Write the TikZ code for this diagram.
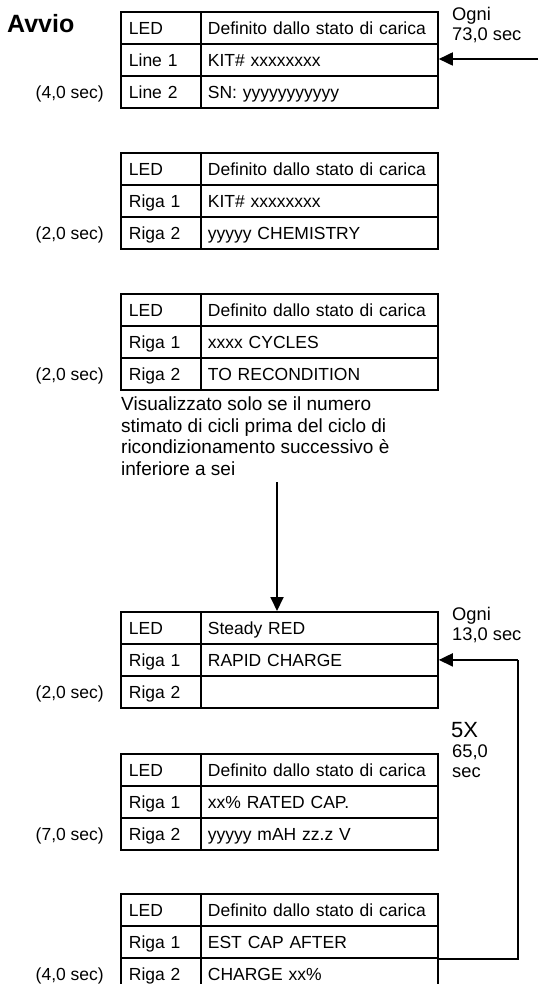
\documentclass[tikz,border=0pt]{standalone}
\usepackage{fontspec}
\setmainfont{Liberation Sans}
\usetikzlibrary{arrows.meta}
\newcommand{\lcdfont}{\fontsize{17.5}{21}\selectfont}
\newcommand{\lblfont}{\fontsize{18.3}{20}\selectfont}
\newcommand{\notefont}{\fontsize{19}{21.7}\selectfont}
\newcommand{\bigfivefont}{\fontsize{22}{24}\selectfont}
\newcommand{\avviofont}{\fontsize{25}{28}\selectfont\bfseries}
% name, top y, LED text, r1 label, r1 text, r2 label, r2 text, time label
\newcommand{\lcdtab}[8]{%
  \node[cellL] (#1a) at (120,#2) {LED};
  \node[cellR] (#1b) at (200,#2) {#3};
  \node[cellL] (#1c) at (120,#2+32) {#4};
  \node[cellR] (#1d) at (200,#2+32) {#5};
  \node[cellL] (#1e) at (120,#2+64) {#6};
  \node[cellR] (#1f) at (200,#2+64) {#7};
  \node[timelbl] (#1t) at ([xshift=-16pt]#1e.west) {#8};
}
\begin{document}
\begin{tikzpicture}[x=1pt,y=-1pt,
  cellbase/.style={draw, line width=1.8pt, anchor=north west, minimum height=32pt,
    inner ysep=0pt, align=left, text height=15pt, text depth=2.5pt, font=\lcdfont},
  cellL/.style={cellbase, text width=64pt, inner xsep=8pt},
  cellR/.style={cellbase, text width=223pt, inner xsep=7pt},
  timelbl/.style={anchor=east, inner sep=0pt, text height=15pt, text depth=2.5pt, font=\lcdfont},
  rlbl/.style={anchor=north west, inner sep=0pt, align=left, font=\lblfont},
  arr/.style={line width=1.8pt, -{Triangle[length=14pt,width=13pt]}},
  loopline/.style={line width=1.8pt}
]
\useasboundingbox (0,0) rectangle (538,984);
\clip (0,0) rectangle (538,984);

\node[anchor=base west, inner sep=0pt, font=\avviofont] (avvio) at (7,33) {Avvio};

\lcdtab{ta}{11}{Definito dallo stato di carica}{Line 1}{KIT\# xxxxxxxx}{Line 2}{SN: yyyyyyyyyyy}{(4,0 sec)}
\lcdtab{tb}{152}{Definito dallo stato di carica}{Riga 1}{KIT\# xxxxxxxx}{Riga 2}{yyyyy CHEMISTRY}{(2,0 sec)}
\lcdtab{tc}{293}{Definito dallo stato di carica}{Riga 1}{xxxx CYCLES}{Riga 2}{TO RECONDITION}{(2,0 sec)}
\lcdtab{td}{611}{Steady RED}{Riga 1}{RAPID CHARGE}{Riga 2}{}{(2,0 sec)}
\lcdtab{te}{753}{Definito dallo stato di carica}{Riga 1}{xx\% RATED CAP.}{Riga 2}{yyyyy mAH zz.z V}{(7,0 sec)}
\lcdtab{tf}{893}{Definito dallo stato di carica}{Riga 1}{EST CAP AFTER}{Riga 2}{CHARGE xx\%}{(4,0 sec)}

\node[anchor=north west, inner sep=0pt, align=left, font=\notefont] (note) at (121,396.6)
  {Visualizzato solo se il numero\\stimato di cicli prima del ciclo di\\ricondizionamento successivo è\\inferiore a sei};

\node[rlbl] (ogni1) at (452,7.4) {Ogni\\73,0 sec};
\node[rlbl] (ogni2) at (452,607.4) {Ogni\\13,0 sec};
\node[anchor=base west, inner sep=0pt, font=\bigfivefont] (fivex) at (451,737) {5X};
\node[rlbl] (tot) at (452,744.7) {65,0\\sec};

% connectors
\coordinate (topin) at (538,59);
\draw[arr] (topin) -- (topin -| tad.east);

\coordinate (vstart) at (277,482);
\draw[arr] (vstart) -- (vstart |- tdb.north);

\coordinate (loopx) at (518,0);
\draw[loopline] (tfd.south east) -- (loopx |- tfd.south east) -- (loopx |- tdd.east);
\draw[arr] (loopx |- tdd.east) -- (tdd.east);
\end{tikzpicture}
\end{document}
